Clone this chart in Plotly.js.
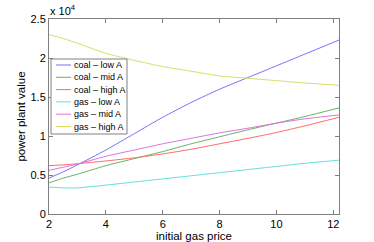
<!DOCTYPE html>
<html>
<head>
<meta charset="utf-8">
<script src="https://cdn.plot.ly/plotly-3.0.1.min.js"></script>
<style>html,body{margin:0;padding:0;background:#fff;}#chart{width:374px;height:242px;}</style>
</head>
<body>
<div id="chart"></div>
<script>
const gasPrice = [2, 2.5, 3, 4, 5, 6, 7, 8, 9, 10, 11, 12.2];
const coalLowA  = [4600, 5400, 6300, 8200, 10300, 12400, 14300, 16000, 17500, 19000, 20500, 22300];
const coalMidA  = [4000, 4600, 5100, 6200, 7100, 8000, 9000, 9900, 10800, 11650, 12500, 13600];
const coalHighA = [6200, 6300, 6450, 6800, 7200, 7700, 8300, 9000, 9700, 10450, 11300, 12400];
const gasLowA   = [3450, 3350, 3350, 3700, 4100, 4500, 4900, 5300, 5700, 6100, 6500, 6900];
const gasMidA   = [5600, 6000, 6400, 7400, 8200, 9000, 9700, 10400, 11000, 11650, 12200, 12700];
const gasHighA  = [23000, 22500, 21900, 20600, 19700, 18900, 18300, 17700, 17400, 17100, 16800, 16500];

const seriesNames = ['coal \u2013 low A', 'coal \u2013 mid A', 'coal \u2013 high A', 'gas \u2013 low A', 'gas \u2013 mid A', 'gas \u2013 high A'];
const seriesData = [coalLowA, coalMidA, coalHighA, gasLowA, gasMidA, gasHighA];
const seriesColors = ['#7373ff', '#66b366', '#ff6a6a', '#66dede', '#e070e0', '#dcdc66'];

const yTickVals = [0, 5000, 10000, 15000, 20000, 25000];
const yTickText = ['0', '0.5', '1', '1.5', '2', '2.5'];
const xTickVals = [2, 4, 6, 8, 10, 12];

const FONT = 'Liberation Sans, Arial, sans-serif';
const W = 374, H = 242, ML = 49, MR = 35, MT = 19, MB = 28;
const PW = W - ML - MR, PH = H - MT - MB;
const px = v => (v - ML) / PW;
const py = v => (H - MB - v) / PH;

const traces = seriesData.map((d, i) => ({
  x: gasPrice, y: d, type: 'scatter', mode: 'lines', name: seriesNames[i],
  line: {color: seriesColors[i], width: 1, shape: 'spline', smoothing: 0.6},
  showlegend: false
}));

// manual MATLAB-style legend box
const shapes = [{
  type: 'rect', xref: 'paper', yref: 'paper', layer: 'above',
  x0: px(51), x1: px(127), y0: py(134), y1: py(59),
  fillcolor: '#fff', line: {color: '#808080', width: 1}
}];
const annotations = [{
  xref: 'paper', yref: 'paper', x: -0.003, y: 1.0, xanchor: 'left', yanchor: 'bottom',
  text: 'x 10<sup>4</sup>', showarrow: false,
  font: {family: FONT, size: 11, color: '#000'}
}];
seriesNames.forEach((name, i) => {
  const yy = 65 + i * 12.3;
  shapes.push({
    type: 'line', xref: 'paper', yref: 'paper', layer: 'above',
    x0: px(56), x1: px(71), y0: py(yy), y1: py(yy),
    line: {color: seriesColors[i], width: 1}
  });
  annotations.push({
    xref: 'paper', yref: 'paper', x: px(72), y: py(yy), xanchor: 'left', yanchor: 'middle',
    text: name, showarrow: false, font: {family: FONT, size: 9, color: '#000'}
  });
});

const axisCommon = {
  showgrid: false, zeroline: false, showline: true, linecolor: '#808080', linewidth: 1,
  mirror: 'ticks', ticks: 'inside', ticklen: 4, tickcolor: '#808080',
  tickfont: {family: FONT, size: 11, color: '#000'}
};

const layout = {
  width: W, height: H,
  margin: {l: ML, r: MR, t: MT, b: MB},
  paper_bgcolor: '#fff', plot_bgcolor: '#fff',
  showlegend: false,
  xaxis: Object.assign({}, axisCommon, {
    range: [2, 12.2], tickvals: xTickVals,
    title: {text: 'initial gas price', font: {family: FONT, size: 11.5, color: '#000'}, standoff: 0}
  }),
  yaxis: Object.assign({}, axisCommon, {
    range: [0, 25000], tickvals: yTickVals, ticktext: yTickText,
    title: {text: 'power plant value', font: {family: FONT, size: 11.5, color: '#000'}, standoff: 2}
  }),
  shapes: shapes,
  annotations: annotations
};

Plotly.newPlot('chart', traces, layout, {displayModeBar: false, staticPlot: true});
</script>
</body>
</html>
